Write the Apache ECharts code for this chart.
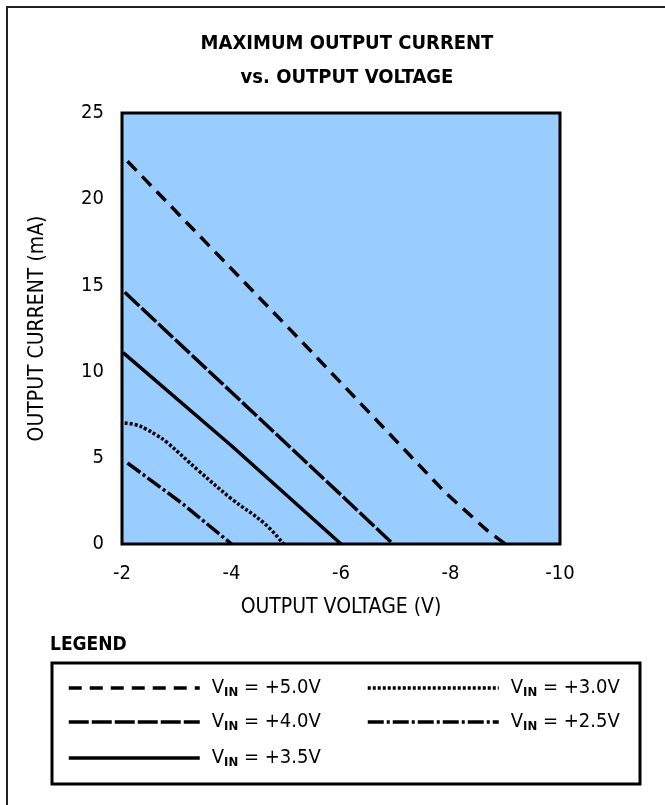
<!DOCTYPE html>
<html>
<head>
<meta charset="utf-8">
<script src="https://cdn.jsdelivr.net/npm/echarts@6/dist/echarts.min.js"></script>
<style>html,body{margin:0;padding:0;background:#fff}#c{width:665px;height:805px}</style>
</head>
<body>
<div id="c"></div>
<script>
// ---- data ----
const xTicks = [-2, -4, -6, -8, -10];
const yTicks = [0, 5, 10, 15, 20, 25];
const seriesNames = ['+5.0V', '+4.0V', '+3.5V', '+3.0V', '+2.5V'];
const vin50 = [[-2.1, 22.2], [-5.25, 11.85], [-7.9, 3.0], [-8.7, 0.7], [-9, 0]];
const vin40 = [[-2.05, 14.6], [-4, 8.8], [-6, 2.85], [-6.95, 0]];
const vin35 = [[-2.02, 11.1], [-4, 5.7], [-6, 0]];
const vin30 = [[-2.05, 7.02], [-2.27, 6.9], [-2.45, 6.65], [-2.63, 6.32], [-2.82, 5.9], [-3.4, 4.25], [-4.0, 2.62], [-4.6, 1.2], [-4.95, 0]];
const vin25 = [[-2.1, 4.7], [-3.1, 2.35], [-4.0, 0]];

const FONT = '"DejaVu Sans Condensed", "Liberation Sans Narrow", sans-serif';
const dashes = {
  '+5.0V': [13, 8],
  '+4.0V': [20, 3],
  '+3.5V': 'solid',
  '+3.0V': [3, 2],
  '+2.5V': [16, 3, 3, 3]
};
const dataMap = {'+5.0V': vin50, '+4.0V': vin40, '+3.5V': vin35, '+3.0V': vin30, '+2.5V': vin25};

const chart = echarts.init(document.getElementById('c'), null, {renderer: 'canvas'});

function mkSeries(name) {
  return {
    name: name,
    type: 'line',
    data: dataMap[name],
    smooth: name === '+3.0V' ? 0.4 : false,
    symbol: 'none',
    silent: true,
    itemStyle: {color: '#000'},
    lineStyle: {color: '#000', width: 3.5, type: dashes[name], cap: 'butt'}
  };
}

const legendRich = {
  v: {fontFamily: FONT, fontSize: 20, color: '#000', padding: [0, 0, 0, 7], lineHeight: 22},
  s: {fontFamily: FONT, fontSize: 13, fontWeight: 'bold', color: '#000', padding: [9, 0, 0, 0], lineHeight: 13},
  t: {fontFamily: FONT, fontSize: 20, color: '#000', lineHeight: 22}
};
function mkLegend(name, left, cy) {
  return {
    data: [name],
    left: left,
    top: cy - 11,
    padding: 0,
    itemWidth: 131,
    itemHeight: 22,
    selectedMode: false,
    itemStyle: {opacity: 0},
    lineStyle: {width: 3.5},
    formatter: n => '{v|V}{s|IN}{t| = ' + n + '}',
    textStyle: {rich: legendRich}
  };
}

const option = {
  animation: false,
  backgroundColor: '#fff',
  title: {
    text: 'MAXIMUM OUTPUT CURRENT\nvs. OUTPUT VOLTAGE',
    left: 342,
    top: 22,
    textAlign: 'center',
    textStyle: {fontFamily: FONT, fontSize: 20, fontWeight: 'bold', color: '#000', lineHeight: 34}
  },
  grid: {
    left: 122, right: 105, top: 113, bottom: 261,
    show: true, backgroundColor: '#99CCFF', borderColor: '#000', borderWidth: 3
  },
  xAxis: {
    type: 'value', min: -10, max: -2, interval: 2, inverse: true,
    name: 'OUTPUT VOLTAGE (V)', nameLocation: 'middle', nameGap: 53,
    nameTextStyle: {fontFamily: FONT, fontSize: 21, color: '#000'},
    axisLine: {show: false}, axisTick: {show: false}, splitLine: {show: false},
    axisLabel: {fontFamily: FONT, fontSize: 20, color: '#000', margin: 20}
  },
  yAxis: {
    type: 'value', min: 0, max: 25, interval: 5,
    name: 'OUTPUT CURRENT (mA)', nameLocation: 'middle', nameGap: 74,
    nameTextStyle: {fontFamily: FONT, fontSize: 21, color: '#000'},
    axisLine: {show: false, onZero: false}, axisTick: {show: false}, splitLine: {show: false},
    axisLabel: {fontFamily: FONT, fontSize: 20, color: '#000', margin: 18}
  },
  legend: [
    mkLegend('+5.0V', 67, 688),
    mkLegend('+4.0V', 67, 722),
    mkLegend('+3.5V', 67, 758),
    mkLegend('+3.0V', 366, 688),
    mkLegend('+2.5V', 366, 722)
  ],
  graphic: [
    {type: 'polyline', shape: {points: [[7, 805], [7, 7], [665, 7]]}, style: {stroke: '#222', lineWidth: 2, fill: null}},
    {type: 'text', left: 50, top: 636, style: {text: 'LEGEND', font: 'bold 19px ' + FONT, fill: '#000'}},
    {type: 'rect', shape: {x: 52, y: 663, width: 588, height: 121}, style: {stroke: '#000', lineWidth: 3, fill: null}}
  ],
  series: seriesNames.map(mkSeries)
};
chart.setOption(option);
</script>
</body>
</html>
